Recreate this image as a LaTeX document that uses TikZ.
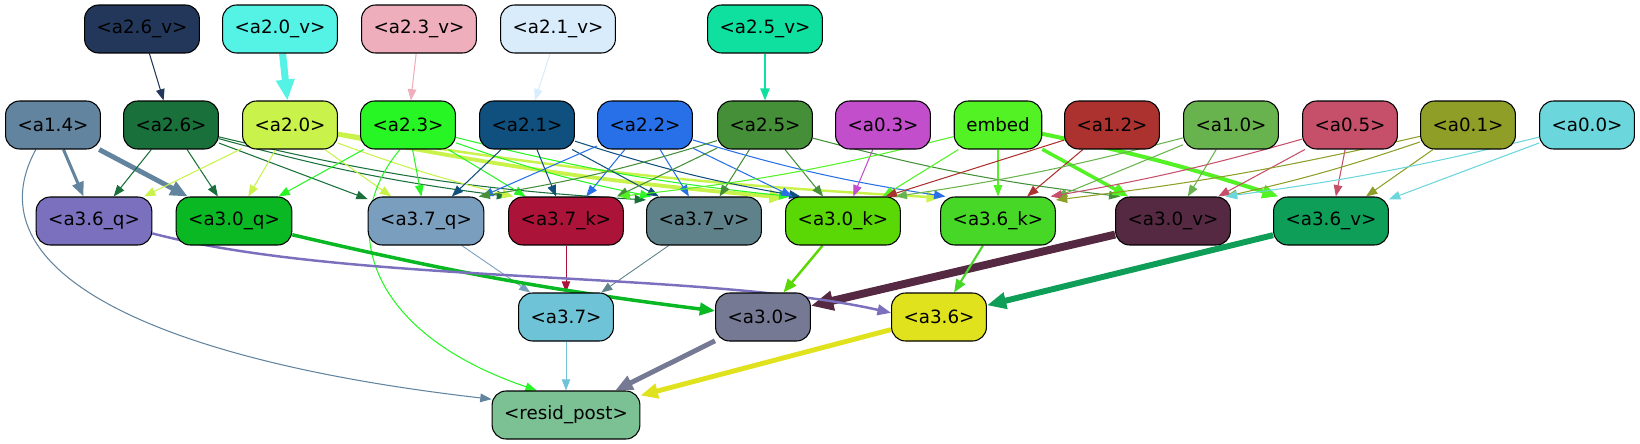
\documentclass[tikz,border=0pt]{standalone}
\usepackage{fontspec}
\setmainfont{DejaVu Sans}
\usetikzlibrary{arrows.meta, backgrounds}
\definecolor{cv26}{HTML}{22375A}
\definecolor{cv20}{HTML}{55F2E6}
\definecolor{cv23}{HTML}{EEAEBB}
\definecolor{cv21}{HTML}{D8ECFC}
\definecolor{cv25}{HTML}{10E09F}
\definecolor{ca14}{HTML}{62849E}
\definecolor{ca26}{HTML}{19703B}
\definecolor{ca20}{HTML}{C9F24B}
\definecolor{ca23}{HTML}{28F624}
\definecolor{ca21}{HTML}{10507E}
\definecolor{ca22}{HTML}{2870E8}
\definecolor{ca25}{HTML}{448F38}
\definecolor{ca03}{HTML}{C24ECC}
\definecolor{cemb}{HTML}{52F224}
\definecolor{ca12}{HTML}{AB322F}
\definecolor{ca10}{HTML}{69B34E}
\definecolor{ca05}{HTML}{C64F6A}
\definecolor{ca01}{HTML}{8F9E27}
\definecolor{ca00}{HTML}{6BD6DB}
\definecolor{cq36}{HTML}{7B70BD}
\definecolor{cq30}{HTML}{0AB823}
\definecolor{cq37}{HTML}{7A9EBE}
\definecolor{ck37}{HTML}{AB1339}
\definecolor{cv37}{HTML}{5E818A}
\definecolor{ck30}{HTML}{5AD806}
\definecolor{ck36}{HTML}{47D827}
\definecolor{cv30}{HTML}{542941}
\definecolor{cv36}{HTML}{0E9E58}
\definecolor{ca37}{HTML}{6FC3D7}
\definecolor{ca30}{HTML}{767994}
\definecolor{ca36}{HTML}{E0E21E}
\definecolor{cres}{HTML}{7BC194}
\tikzset{
  blk/.style={draw, rounded corners=0.28cm, minimum height=0.96cm, inner xsep=0.24cm, line width=0.6pt, font=\fontsize{10.4}{12}\selectfont},
  ln/.style={->, line width=0.6pt},
}
\begin{document}
\begin{tikzpicture}[x=0.02cm, y=-0.02cm, >={Triangle[length=5.5pt 1.6, width=4pt 1.5]}]
  \useasboundingbox (0,0) rectangle (1640,443);
  % value inputs
  \node (v26) [blk, fill=cv26] at (142,29) {<a2.6\_v>};
  \node (v20) [blk, fill=cv20] at (280,29) {<a2.0\_v>};
  \node (v23) [blk, fill=cv23] at (419,29) {<a2.3\_v>};
  \node (v21) [blk, fill=cv21] at (558,29) {<a2.1\_v>};
  \node (v25) [blk, fill=cv25] at (765,29) {<a2.5\_v>};
  % sources
  \node (a14) [blk, fill=ca14] at (53,125) {<a1.4>};
  \node (a26) [blk, fill=ca26] at (171,125) {<a2.6>};
  \node (a20) [blk, fill=ca20] at (290,125) {<a2.0>};
  \node (a23) [blk, fill=ca23] at (408,125) {<a2.3>};
  \node (a21) [blk, fill=ca21] at (527,125) {<a2.1>};
  \node (a22) [blk, fill=ca22] at (645,125) {<a2.2>};
  \node (a25) [blk, fill=ca25] at (765,125) {<a2.5>};
  \node (a03) [blk, fill=ca03] at (883,125) {<a0.3>};
  \node (emb) [blk, fill=cemb] at (998,125) {embed};
  \node (a12) [blk, fill=ca12] at (1112,125) {<a1.2>};
  \node (a10) [blk, fill=ca10] at (1231,125) {<a1.0>};
  \node (a05) [blk, fill=ca05] at (1350,125) {<a0.5>};
  \node (a01) [blk, fill=ca01] at (1468,125) {<a0.1>};
  \node (a00) [blk, fill=ca00] at (1587,125) {<a0.0>};
  % q, k, v
  \node (q36) [blk, fill=cq36] at (94,221) {<a3.6\_q>};
  \node (q30) [blk, fill=cq30] at (234,221) {<a3.0\_q>};
  \node (q37) [blk, fill=cq37] at (426,221) {<a3.7\_q>};
  \node (k37) [blk, fill=ck37] at (566,221) {<a3.7\_k>};
  \node (v37) [blk, fill=cv37] at (704,221) {<a3.7\_v>};
  \node (k30) [blk, fill=ck30] at (843,221) {<a3.0\_k>};
  \node (k36) [blk, fill=ck36] at (998,221) {<a3.6\_k>};
  \node (v30) [blk, fill=cv30] at (1173,221) {<a3.0\_v>};
  \node (v36) [blk, fill=cv36] at (1331,221) {<a3.6\_v>};
  % heads and output
  \node (a37) [blk, fill=ca37] at (566,317) {<a3.7>};
  \node (a30) [blk, fill=ca30] at (763,317) {<a3.0>};
  \node (a36) [blk, fill=ca36] at (939,317) {<a3.6>};
  \node (res) [blk, fill=cres] at (566,415) {<resid\_post>};

  \begin{scope}[on background layer]
  \draw[ln, cv26] (v26) -- (a26);
  \draw[ln, cv20, line width=4pt] (v20) -- (a20);
  \draw[ln, cv23] (v23) -- (a23);
  \draw[ln, cv21] (v21) -- (a21);
  \draw[ln, cv25, line width=0.9pt] (v25) -- (a25);

  \draw[ln, ca14, line width=1.7pt] (a14) -- (q36);
  \draw[ln, ca14, line width=2.8pt] (a14) -- (q30);
  \draw[ln, ca14] (a14.-125) .. controls (-30,270) and (150,360) .. (res.168);
  \path[ln, ca26] (a26) edge (q36) edge (q30) edge (q37) edge[bend right=4] (k37.157) edge[bend right=5] (v37.160);
  \path[ln, ca20] (a20) edge (q36) edge (q30) edge (q37) edge[bend right=3] (k37.155);
  \draw[ln, ca20, line width=2.2pt] (a20) to[bend right=3] (k30.158);
  \draw[ln, ca20, line width=1.4pt] (a20) to[bend right=3] (k36.158);
  \path[ln, ca23] (a23) edge (q30) edge (q37) edge (k37) edge[bend right=4] (v37.155) edge[bend right=4] (k30.155);
  \draw[ln, ca23] (a23.-108) .. controls (340,220) and (360,330) .. (res.140);
  \path[ln, ca21] (a21) edge (q37) edge (k37) edge (v37) edge[bend right=4] (k30.150);
  \path[ln, ca22] (a22) edge (q37) edge (k37) edge (v37) edge (k30) edge[bend right=4] (k36.155);
  \path[ln, ca25] (a25) edge[bend left=4] (q37.25) edge (k37) edge (v37) edge (k30) edge[bend right=4] (v30.155);
  \draw[ln, ca03] (a03) -- (k30);
  \path[ln, cemb] (emb) edge[bend left=4] (k37.25) edge (k30) edge (k36);
  \draw[ln, cemb, line width=2pt] (emb) -- (v30);
  \draw[ln, cemb, line width=2.3pt] (emb) to[bend left=3] (v36.155);
  \path[ln, ca12] (a12) edge (k30.30) edge (k36);
  \path[ln, ca10] (a10) edge[bend left=3] (k30.25) edge (k36) edge (v30);
  \path[ln, ca05] (a05) edge[bend left=3] (k36.25) edge (v30) edge (v36);
  \path[ln, ca01] (a01) edge[bend left=3] (k36.20) edge[bend left=3] (v30.25) edge (v36);
  \path[ln, ca00] (a00) edge[bend left=3] (v30.25) edge (v36);

  \path[ln, line width=0.5pt] (q37) edge[cq37] (a37) (k37) edge[ck37] (a37) (v37) edge[cv37] (a37);
  \draw[ln, cq30, line width=2pt] (q30) to[bend right=3] (a30);
  \draw[ln, ck30, line width=1.4pt] (k30) -- (a30);
  \draw[ln, cv30, line width=4.5pt] (v30) -- (a30);
  \draw[ln, cq36, line width=1.4pt] (q36.-12) .. controls (350,285) and (700,270) .. (a36.175);
  \draw[ln, ck36, line width=1.2pt] (k36) -- (a36);
  \draw[ln, cv36, line width=3.4pt] (v36) -- (a36);
  \draw[ln, ca37, line width=0.5pt] (a37) -- (res);
  \draw[ln, ca30, line width=2.8pt] (a30) -- (res);
  \draw[ln, ca36, line width=2.8pt] (a36) -- (res);
  \end{scope}
\end{tikzpicture}
\end{document}
